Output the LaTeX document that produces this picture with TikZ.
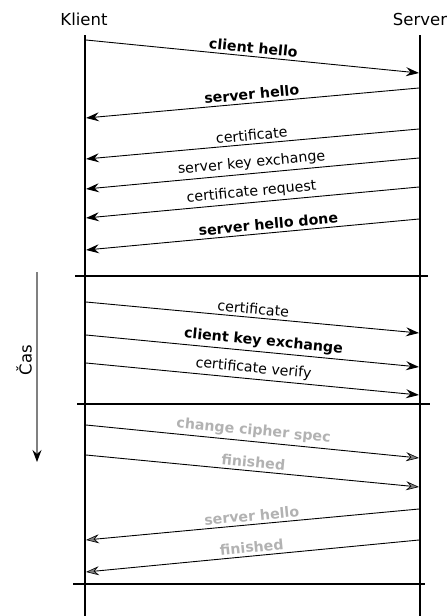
\documentclass[tikz,border=0pt]{standalone}
\usepackage{fontspec}
\setmainfont{DejaVu Sans}
\usetikzlibrary{arrows.meta}
\usepackage{xcolor}

\tikzset{
  life/.style={line width=2pt},
  cut/.style={line width=2.5pt},
  msg/.style={line width=0.9pt, -{Stealth[length=13pt,width=9pt,inset=4.5pt]}},
  late/.style={line width=0.9pt, -{Stealth[length=13pt,width=9pt,inset=4.5pt,color=black,fill=gray,line width=0.6pt]}},
  lbl/.style={midway, above=1pt, sloped, inner sep=2pt, font=\fontsize{14.2}{17}\selectfont},
  head/.style={font=\fontsize{16.5}{20}\selectfont, inner sep=0pt}
}

\begin{document}
\begin{tikzpicture}[x=1pt,y=-1pt]
  \useasboundingbox (0,0) rectangle (447,616);

  % parties
  \node[head] (klient) at (84,19) {Klient};
  \node[head] (server) at (420,19) {Server};
  \coordinate (kTop) at (85,35);
  \coordinate (kBot) at (85,616);
  \coordinate (sTop) at (420,35);
  \coordinate (sBot) at (420,616);
  \draw[life] (kTop) -- (kBot);
  \draw[life] (sTop) -- (sBot);

  % message end points on the two lifelines
  \foreach \n/\yk/\ys in {1/40/73, 2/118/88, 3/159/129, 4/189/158, 5/218/187,
      6/250/219, 7/302/333, 8/335/367, 9/363/395, 10/425/458, 11/455/487,
      12/540/509, 13/572/540} {
    \coordinate (k\n) at (86,\yk);
    \coordinate (s\n) at (419,\ys);
  }

  % server hello phase
  \draw[msg] (k1) -- node[lbl] {\bfseries client hello} (s1);
  \draw[msg] (s2) -- node[lbl] {\bfseries server hello} (k2);
  \draw[msg] (s3) -- node[lbl] {certificate} (k3);
  \draw[msg] (s4) -- node[lbl] {server key exchange} (k4);
  \draw[msg] (s5) -- node[lbl] {certificate request} (k5);
  \draw[msg] (s6) -- node[lbl,pos=0.45] {\bfseries server hello done} (k6);

  \coordinate (c1a) at (75,276);
  \coordinate (c1b) at (428,276);
  \draw[cut] (c1a) -- (c1b);

  % client answer
  \draw[msg] (k7) -- node[lbl] {certificate} (s7);
  \draw[msg] (k8) -- node[lbl,pos=0.53] {\bfseries client key exchange} (s8);
  \draw[msg] (k9) -- node[lbl] {certificate verify} (s9);

  \coordinate (c2a) at (77,404);
  \coordinate (c2b) at (430,404);
  \draw[cut] (c2a) -- (c2b);

  % finishing
  \draw[late] (k10) -- node[lbl,text=gray!60] {\bfseries change cipher spec} (s10);
  \draw[late] (k11) -- node[lbl,text=gray!60] {\bfseries finished} (s11);
  \draw[late] (s12) -- node[lbl,text=gray!60] {\bfseries server hello} (k12);
  \draw[late] (s13) -- node[lbl,text=gray!60] {\bfseries finished} (k13);

  \coordinate (c3a) at (73,584);
  \coordinate (c3b) at (425,584);
  \draw[cut] (c3a) -- (c3b);

  % time axis
  \coordinate (tTop) at (37,272);
  \coordinate (tBot) at (37,462);
  \draw[gray, line width=1.2pt, -{Stealth[length=12pt,width=9pt,inset=4pt,black]}] (tTop) -- (tBot);
  \node[head, rotate=90] (cas) at (24,360) {Čas};
\end{tikzpicture}
\end{document}
